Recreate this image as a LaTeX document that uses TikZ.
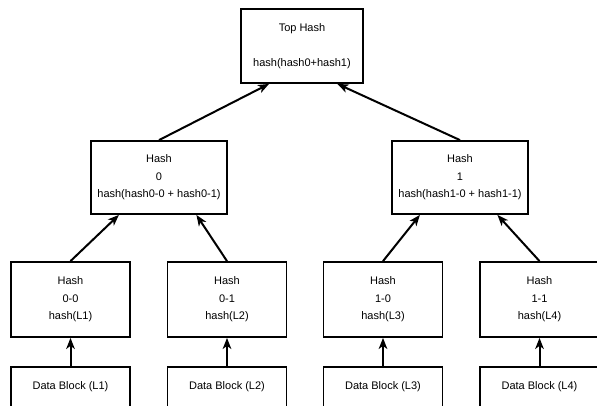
\documentclass[tikz,border=0pt]{standalone}
\usepackage{fontspec}
\setmainfont{Liberation Sans}
\usepackage{tikz}
\usetikzlibrary{arrows.meta,positioning}

\begin{document}
\begin{tikzpicture}[x=1pt,y=-1pt,
    box/.style={draw,line width=1.8pt,rectangle,align=center,inner sep=0pt,
      font=\fontsize{11}{17.5}\selectfont},
    hashbox/.style={box,minimum width=119pt,minimum height=75pt},
    datablock/.style={box,minimum width=119pt,minimum height=40pt},
    up/.style={line width=2pt,-{Stealth[length=11pt,width=8.5pt,inset=3pt]}}]
    \useasboundingbox[fill=white] (0,0) rectangle (597,405);
    % root and middle level
    \node[box,minimum width=122pt,minimum height=74pt] (top) at (302,46) {Top Hash\\[17.5pt]hash(hash0+hash1)};
    \node[box,minimum width=136pt,minimum height=73pt] (h0) at (159,177.5) {Hash\\0\\hash(hash0-0 + hash0-1)};
    \node[box,minimum width=136pt,minimum height=73pt] (h1) at (460,177.5) {Hash\\1\\hash(hash1-0 + hash1-1)};
    % leaves and data blocks
    \foreach \n/\x/\lab/\blk in {00/70.5/0-0/L1,01/227/0-1/L2,10/383/1-0/L3,11/539.5/1-1/L4}
    {
      \node[hashbox] (h\n) at (\x,299.5) {Hash\\\lab\\hash(\blk)};
      \node[datablock] (d\n) at (\x,387) {Data Block (\blk)};
      \draw[up] (d\n) -- (h\n);
    }
    \draw[up] (h00.north) -- (h0.223);
    \draw[up] (h01.north) -- (h0.315);
    \draw[up] (h10.north) -- (h1.223);
    \draw[up] (h11.north) -- (h1.315);
    \draw[up] (h0.north) -- (top.229);
    \draw[up] (h1.north) -- (top.313);
\end{tikzpicture}
\end{document}
